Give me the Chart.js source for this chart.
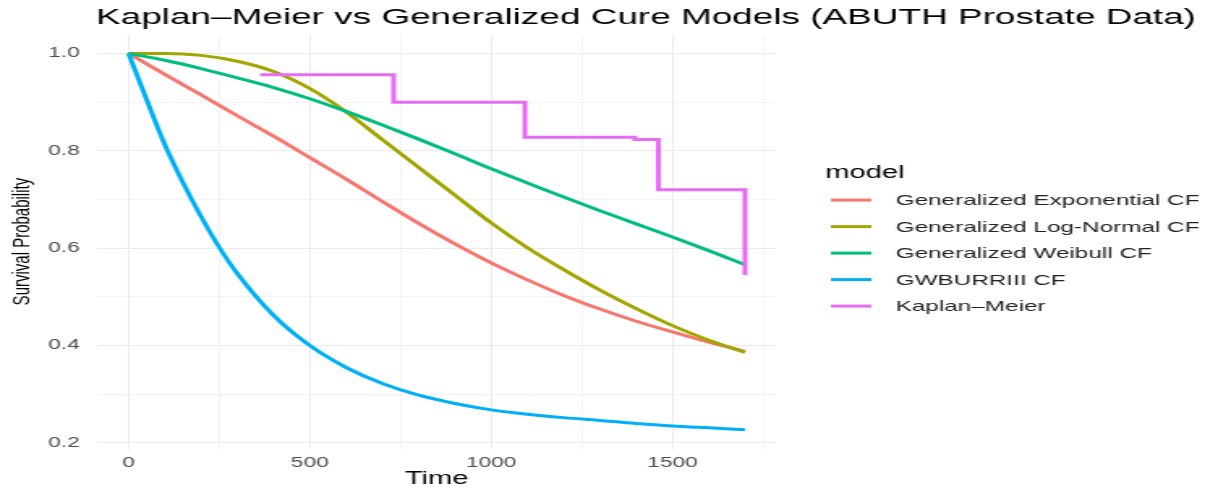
<!DOCTYPE html>
<html lang="en">
<head>
<meta charset="UTF-8">
<title>Kaplan–Meier vs Generalized Cure Models</title>
<script src="https://cdn.jsdelivr.net/npm/chart.js@4.4.1/dist/chart.umd.min.js"></script>
<style>
    body { margin: 0; background: #ffffff; }
    #chart { display: block; }
</style>
</head>
<body>
<!-- the reference picture is stretched sideways, so draw narrow and widen it with the inline style -->
<canvas id="chart" width="744" height="491" style="width:1205px;height:491px"></canvas>
<script>
    // survival
    const modelTimes = [0, 100, 200, 300, 400, 500, 600, 700, 800, 900, 1000, 1100, 1200, 1300, 1400, 1500, 1600, 1700];
    const genExponential = [1.000, 0.957, 0.915, 0.872, 0.830, 0.786, 0.742, 0.696, 0.651, 0.609, 0.570, 0.535, 0.503, 0.475, 0.450, 0.428, 0.407, 0.388];
    const genLogNormal = [1.000, 1.000, 0.996, 0.984, 0.963, 0.928, 0.880, 0.823, 0.766, 0.709, 0.652, 0.601, 0.556, 0.514, 0.476, 0.441, 0.411, 0.386];
    const genWeibull = [1.000, 0.986, 0.969, 0.950, 0.930, 0.907, 0.881, 0.853, 0.824, 0.794, 0.763, 0.734, 0.705, 0.677, 0.650, 0.623, 0.595, 0.566];

    const burrTimes = [0, 50, 100, 150, 200, 250, 300, 400, 500, 600, 700, 800, 900, 1000, 1100, 1200, 1300, 1400, 1500, 1600, 1700];
    const gwBurr = [1.000, 0.905, 0.813, 0.735, 0.665, 0.602, 0.548, 0.462, 0.400, 0.355, 0.322, 0.298, 0.281, 0.268, 0.259, 0.252, 0.246, 0.240, 0.235, 0.231, 0.227];

    // Kaplan-Meier steps
    const kmTimes = [363, 731, 1093, 1396, 1461, 1700, 1700];
    const kmSurv = [0.956, 0.900, 0.828, 0.823, 0.720, 0.720, 0.545];

    const modelNames = ["Generalized Exponential CF", "Generalized Log-Normal CF", "Generalized Weibull CF", "GWBURRIII CF", "Kaplan\u2013Meier"];
    const colors = ["#F8766D", "#A3A500", "#00BF7D", "#00B0F6", "#E76BF3"];

    const xTicks = [0, 500, 1000, 1500];
    const xMinor = [250, 750, 1250, 1750];
    const yTicks = [0.2, 0.4, 0.6, 0.8, 1.0];
    const yMinor = [0.3, 0.5, 0.7, 0.9];

    const chartTitle = "Kaplan\u2013Meier vs Generalized Cure Models (ABUTH Prostate Data)";
    const FONT = '"Liberation Sans", Arial, sans-serif';

    function pts(xs, ys) {
        return xs.map((x, i) => ({ x: x, y: ys[i] }));
    }

    const series = [
        pts(modelTimes, genExponential),
        pts(modelTimes, genLogNormal),
        pts(modelTimes, genWeibull),
        pts(burrTimes, gwBurr),
        pts(kmTimes, kmSurv)
    ];

    // title left-aligned on the panel and a ggplot style legend on the right
    const decorations = {
        id: "decorations",
        afterDraw(chart) {
            const ctx = chart.ctx;
            const area = chart.chartArea;
            ctx.save();
            ctx.textAlign = "left";

            ctx.fillStyle = "#000000";
            ctx.font = "22.8px " + FONT;
            ctx.textBaseline = "middle";
            ctx.fillText(chartTitle, area.left - 1, 17.5);

            const left = area.right + 30.5;
            const mid = (area.top + area.bottom) / 2;
            ctx.font = "18px " + FONT;
            ctx.textBaseline = "alphabetic";
            ctx.fillText("model", left, mid - 63.5);
            chart.data.datasets.forEach((ds, i) => {
                const y = mid - 41.5 + i * 26.5;
                ctx.strokeStyle = ds.borderColor;
                ctx.lineWidth = 3;
                ctx.beginPath();
                ctx.moveTo(left + 3.5, y);
                ctx.lineTo(left + 28.5, y);
                ctx.stroke();
                ctx.fillStyle = "#222222";
                ctx.font = "15px " + FONT;
                ctx.textBaseline = "middle";
                ctx.fillText(ds.label, left + 43.5, y + 1);
            });
            ctx.restore();
        }
    };

    let ctx = document.getElementById("chart").getContext("2d");

    let chart = new Chart(ctx, {
        type: "line",
        data: {
            datasets: series.map((d, i) => ({
                label: modelNames[i],
                data: d,
                borderColor: colors[i],
                backgroundColor: colors[i],
                borderWidth: 3,
                pointRadius: 0,
                fill: false,
                cubicInterpolationMode: "monotone",
                stepped: i === 4,
                order: 5 - i
            }))
        },
        options: {
            responsive: false,
            animation: false,
            devicePixelRatio: 1,
            layout: { padding: { left: 0, right: 265, top: 34.6, bottom: 0 } },
            plugins: {
                legend: { display: false },
                tooltip: { enabled: false }
            },
            scales: {
                x: {
                    type: "linear",
                    min: -85,
                    max: 1785,
                    afterBuildTicks: s => {
                        s.ticks = xTicks.concat(xMinor).sort((a, b) => a - b).map(v => ({ value: v }));
                    },
                    afterFit: s => { s.height = 42.4; },
                    ticks: {
                        autoSkip: false,
                        maxRotation: 0,
                        padding: 6,
                        color: "#4D4D4D",
                        font: { family: FONT, size: 14 },
                        callback: v => xTicks.includes(v) ? String(v) : ""
                    },
                    grid: {
                        color: "#EBEBEB",
                        drawTicks: false,
                        lineWidth: c => xTicks.includes(c.tick.value) ? 1 : 0.55
                    },
                    border: { display: false },
                    title: {
                        display: true,
                        text: "Time",
                        color: "#000000",
                        font: { family: FONT, size: 18 },
                        padding: { top: 0, bottom: 1 }
                    }
                },
                y: {
                    min: 0.1884,
                    max: 1.0387,
                    afterBuildTicks: s => {
                        s.ticks = yTicks.concat(yMinor).sort((a, b) => a - b).map(v => ({ value: v }));
                    },
                    afterFit: s => { s.width = 60.3; },
                    ticks: {
                        padding: 11,
                        color: "#4D4D4D",
                        font: { family: FONT, size: 14 },
                        callback: v => yTicks.includes(v) ? v.toFixed(1) : ""
                    },
                    grid: {
                        color: "#EBEBEB",
                        drawTicks: false,
                        lineWidth: c => yTicks.includes(c.tick.value) ? 1 : 0.55
                    },
                    border: { display: false },
                    title: {
                        display: true,
                        text: "Survival Probability",
                        color: "#000000",
                        font: { family: FONT, size: 15 },
                        padding: { top: 5, bottom: 0 }
                    }
                }
            }
        },
        plugins: [decorations]
    });
</script>
</body>
</html>
